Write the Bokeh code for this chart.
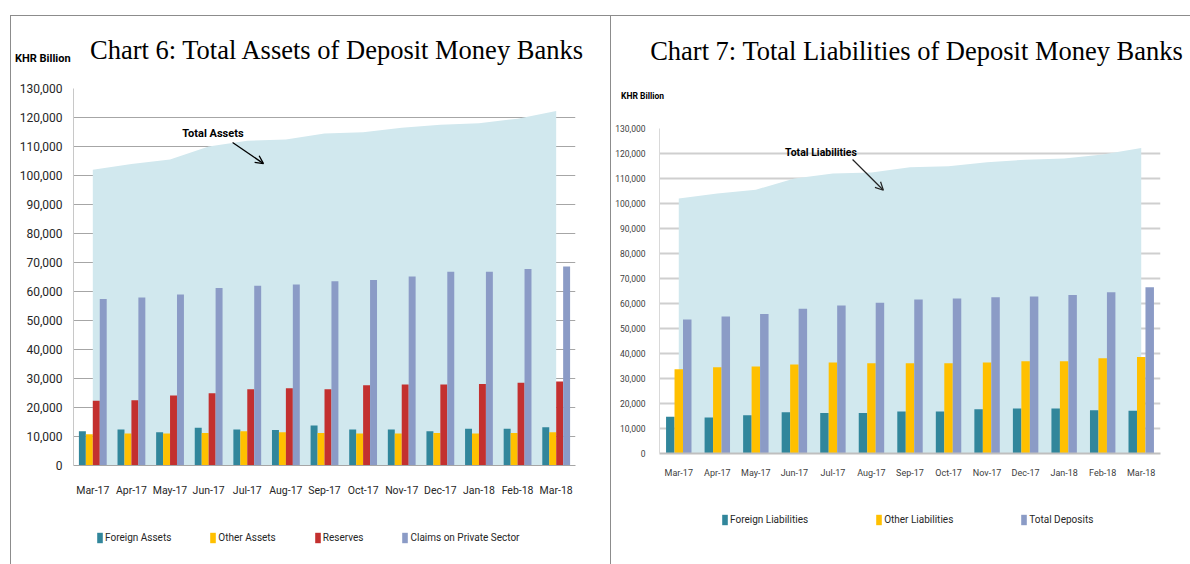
from bokeh.plotting import figure
from bokeh.models import (FactorRange, Range1d, NumeralTickFormatter, SingleIntervalTicker,
                          Label, Arrow, OpenHead, Legend, LegendItem, Spacer, ColumnDataSource, Div)
from bokeh.layouts import row, column
from bokeh.transform import dodge
from bokeh.embed import file_html
from bokeh.resources import INLINE

# ---------------- data ----------------
months = ["Mar-17", "Apr-17", "May-17", "Jun-17", "Jul-17", "Aug-17", "Sep-17",
          "Oct-17", "Nov-17", "Dec-17", "Jan-18", "Feb-18", "Mar-18"]

total_assets = [102000, 104000, 105500, 110000, 112000, 112400, 114500,
                114900, 116500, 117500, 118000, 119600, 122200]
foreign_assets = [11800, 12400, 11500, 13000, 12400, 12200, 13800,
                  12400, 12400, 11800, 12700, 12700, 13200]
other_assets = [10800, 11000, 11000, 11200, 11800, 11500, 11200,
                11000, 11000, 11200, 11000, 11200, 11500]
reserves = [22300, 22500, 24100, 24900, 26300, 26600, 26300,
            27700, 27900, 27900, 28100, 28500, 29000]
claims_private = [57400, 57900, 59000, 61200, 62000, 62400, 63500,
                  64000, 65200, 66800, 66800, 67800, 68600]

total_liabilities = [102000, 104000, 105500, 110000, 112000, 112400, 114500,
                     114900, 116500, 117500, 118000, 119600, 122200]
foreign_liabilities = [14700, 14400, 15300, 16500, 16200, 16200, 16800,
                       16800, 17700, 18000, 18000, 17300, 17100]
other_liabilities = [33700, 34500, 34800, 35600, 36400, 36100, 36100,
                     36100, 36400, 36900, 36900, 38100, 38600]
total_deposits = [53600, 54800, 55800, 57900, 59200, 60300, 61600,
                  62000, 62500, 62800, 63400, 64500, 66500]

y_max = 130000
y_step = 10000

title_left = "Chart 6: Total Assets of Deposit Money Banks"
title_right = "Chart 7: Total Liabilities of Deposit Money Banks"
unit_label = "KHR Billion"
legend_left = ["Foreign Assets", "Other Assets", "Reserves", "Claims on Private Sector"]
legend_right = ["Foreign Liabilities", "Other Liabilities", "Total Deposits"]

# ---------------- styles ----------------
SANS = "Roboto"
SERIF = "Liberation Serif"
C_TEAL = "#31869B"
C_ORANGE = "#FFC000"
C_RED = "#C3302F"
C_BLUE = "#8B9BC6"
C_AREA = "#D1E8EE"
FRAME_CSS = "1px solid #8c8c8c"


def base_fig(width, height, left, right, top, bottom):
    p = figure(width=width, height=height, x_range=FactorRange(*months, range_padding=0),
               y_range=Range1d(0, y_max), output_backend="svg", toolbar_location=None,
               min_border_left=left, min_border_right=right,
               min_border_top=top, min_border_bottom=bottom)
    p.outline_line_color = None
    p.background_fill_color = "white"
    p.border_fill_color = "white"
    p.xgrid.grid_line_color = None
    p.yaxis.ticker = SingleIntervalTicker(interval=y_step)
    p.yaxis.formatter = NumeralTickFormatter(format="0,0")
    for ax in (p.xaxis, p.yaxis):
        ax.minor_tick_line_color = None
        ax.major_tick_line_color = None
        ax.major_tick_out = 0
        ax.major_tick_in = 0
        ax.minor_tick_out = 0
    return p


def header(width, height, items):
    spans = []
    for txt, left, top, size, fam, weight, center in items:
        tr = "transform:translateX(-50%);" if center else ""
        spans.append(
            f'<div style="position:absolute;left:{left}px;top:{top}px;{tr}'
            f'white-space:nowrap;font-family:\'{fam}\';font-size:{size}px;'
            f'line-height:1;font-weight:{weight};color:#000;">{txt}</div>')
    html = (f'<div style="position:relative;width:{width}px;height:{height}px;">'
            + "".join(spans) + "</div>")
    return Div(text=html, width=width, height=height, margin=0)


def legend_fig(width, height, labels, colors, loc, spacing, font_size):
    lf = figure(width=width, height=height, x_range=Range1d(0, 1), y_range=Range1d(0, 1),
                output_backend="svg", toolbar_location=None,
                x_axis_location=None, y_axis_location=None,
                min_border_left=0, min_border_right=0, min_border_top=0, min_border_bottom=0)
    lf.outline_line_color = None
    lf.grid.grid_line_color = None
    lf.background_fill_color = "white"
    lf.border_fill_color = "white"
    items = []
    for lab, col in zip(labels, colors):
        # zero-size placeholder glyph, only used to draw the legend swatch
        r = lf.vbar(x=[0], top=[0], bottom=[0], width=0, fill_color=col, line_color=None)
        items.append(LegendItem(label=lab, renderers=[r]))
    lg = Legend(items=items, orientation="horizontal", location=loc, spacing=spacing,
                glyph_width=7, glyph_height=13, label_standoff=2, padding=0, margin=0,
                border_line_color=None, background_fill_alpha=0,
                label_text_font=SANS, label_text_font_size=font_size,
                label_text_color="#262626")
    lf.add_layout(lg, "center")
    return lf


# ---------------- Chart 6 ----------------
src1 = ColumnDataSource(dict(month=months, total=total_assets, fa=foreign_assets,
                             oa=other_assets, res=reserves, cps=claims_private))
p1 = base_fig(599, 424, 62, 35, 12, 35)
p1.varea(x="month", y1=0, y2="total", source=src1, fill_color=C_AREA)
bw = 0.18
p1.vbar(x=dodge("month", -0.27, range=p1.x_range), top="fa", width=bw, source=src1,
        fill_color=C_TEAL, line_color=None)
p1.vbar(x=dodge("month", -0.09, range=p1.x_range), top="oa", width=bw, source=src1,
        fill_color=C_ORANGE, line_color=None)
p1.vbar(x=dodge("month", 0.09, range=p1.x_range), top="res", width=bw, source=src1,
        fill_color=C_RED, line_color=None)
p1.vbar(x=dodge("month", 0.27, range=p1.x_range), top="cps", width=bw, source=src1,
        fill_color=C_BLUE, line_color=None)

p1.ygrid.grid_line_color = "#a6a6a6"
p1.ygrid.grid_line_width = 1
p1.yaxis.axis_line_color = "#c8c8c8"
p1.xaxis.axis_line_color = "#a6a6a6"
p1.yaxis.major_label_text_font = SANS
p1.yaxis.major_label_text_font_size = "12px"
p1.yaxis.major_label_text_color = "#262626"
p1.yaxis.major_label_standoff = 11
p1.xaxis.major_label_text_font = SANS
p1.xaxis.major_label_text_font_size = "10.5px"
p1.xaxis.major_label_text_color = "#262626"
p1.xaxis.major_label_standoff = 18

p1.add_layout(Label(x=3.61, y=114500, text="Total Assets", text_font=SANS,
                    text_font_size="11px", text_font_style="bold", text_align="center",
                    text_baseline="middle", text_color="black"))
p1.add_layout(Arrow(x_start=4.12, y_start=111400, x_end=4.92, y_end=104100,
                    line_width=1.3, line_color="black",
                    end=OpenHead(size=8, line_width=1.3, line_color="black")))

head1 = header(599, 60, [
    (unit_label, 4, 37, 11, SANS, "bold", False),
    (title_left, 325.5, 21, 26.5, SERIF, "normal", True),
])
lf1 = legend_fig(599, 64, legend_left, [C_TEAL, C_ORANGE, C_RED, C_BLUE], (23, 20), 38, "10px")
col1 = column(head1, p1, lf1, styles={"border-top": FRAME_CSS, "border-left": FRAME_CSS})

# ---------------- Chart 7 ----------------
src2 = ColumnDataSource(dict(month=months, total=total_liabilities, fl=foreign_liabilities,
                             ol=other_liabilities, td=total_deposits))
p2 = base_fig(579, 364, 48, 30, 12, 26)
p2.varea(x="month", y1=0, y2="total", source=src2, fill_color=C_AREA)
bw2 = 0.22
p2.vbar(x=dodge("month", -0.22, range=p2.x_range), top="fl", width=bw2, source=src2,
        fill_color=C_TEAL, line_color=None)
p2.vbar(x=dodge("month", 0.0, range=p2.x_range), top="ol", width=bw2, source=src2,
        fill_color=C_ORANGE, line_color=None)
p2.vbar(x=dodge("month", 0.22, range=p2.x_range), top="td", width=bw2, source=src2,
        fill_color=C_BLUE, line_color=None)

p2.ygrid.grid_line_color = "#cfcfcf"
p2.ygrid.grid_line_width = 2
p2.yaxis.axis_line_color = "#d9d9d9"
p2.xaxis.axis_line_color = "#bfbfbf"
p2.xaxis.axis_line_width = 2
p2.yaxis.major_label_text_font = SANS
p2.yaxis.major_label_text_font_size = "8.5px"
p2.yaxis.major_label_text_color = "#404040"
p2.yaxis.major_label_standoff = 14
p2.xaxis.major_label_text_font = SANS
p2.xaxis.major_label_text_font_size = "9px"
p2.xaxis.major_label_text_color = "#404040"
p2.xaxis.major_label_standoff = 14

p2.add_layout(Label(x=4.19, y=120400, text="Total Liabilities", text_font=SANS,
                    text_font_size="10.5px", text_font_style="bold", text_align="center",
                    text_baseline="middle", text_color="black"))
p2.add_layout(Arrow(x_start=5.01, y_start=117600, x_end=5.81, y_end=105300,
                    line_width=1.2, line_color="#222222",
                    end=OpenHead(size=8, line_width=1.2, line_color="#222222")))

head2 = header(579, 100, [
    (title_right, 305.5, 22, 26.5, SERIF, "normal", True),
    (unit_label, 10, 76, 8.5, SANS, "bold", False),
])
lf2 = legend_fig(579, 84, legend_right, [C_TEAL, C_ORANGE, C_BLUE], (62, 38), 67, "10px")
col2 = column(head2, p2, lf2, styles={"border-top": FRAME_CSS, "border-left": FRAME_CSS})

layout = column(Spacer(height=15), row(Spacer(width=10), col1, col2))

open("out.html", "w").write(file_html(layout, INLINE))
